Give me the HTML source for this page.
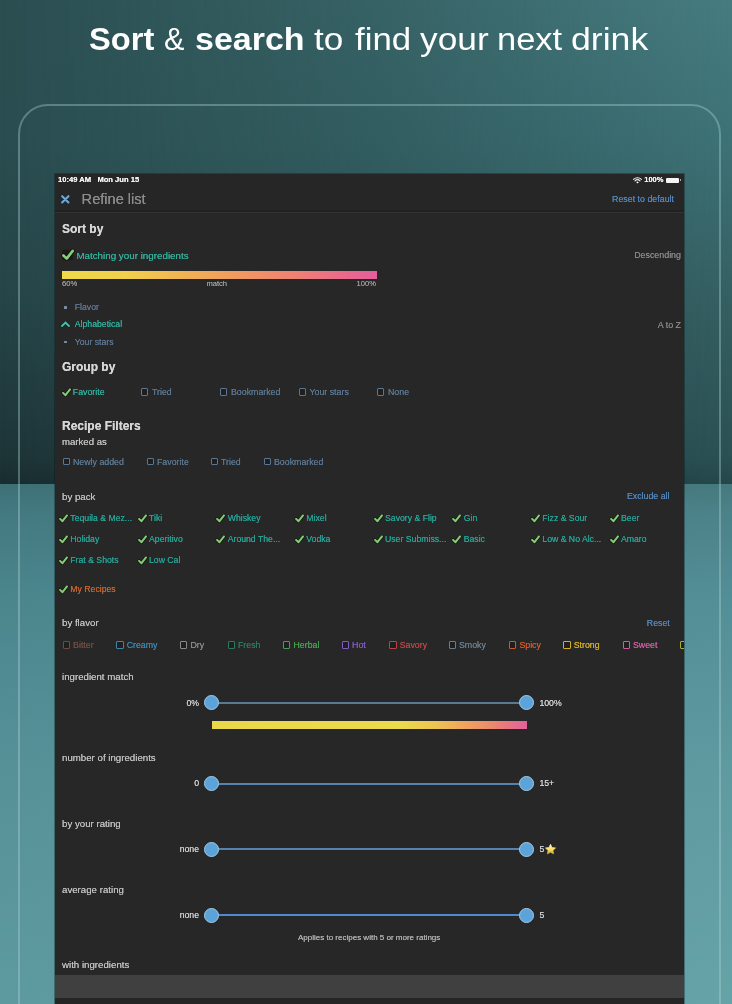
<!DOCTYPE html>
<html><head><meta charset="utf-8"><title>Refine list</title>
<style>
html,body{margin:0;padding:0}
body{width:732px;height:1004px;overflow:hidden;position:relative;background:#2f5b5e;font-family:"Liberation Sans", Arial, sans-serif}
.a{position:absolute}
.t{position:absolute;white-space:nowrap}
.s .t{text-shadow:0 0 0.5px currentColor}
svg.a{overflow:visible}
</style></head><body>
<div class="a" style="left:0;top:0;width:732px;height:484px;background:linear-gradient(180deg,#2b4e51 0%,#2a4d50 29%,#264548 62%,#1e3538 94%,#192d31 100%)"></div>
<div class="a" style="left:0;top:0;width:732px;height:484px;background:linear-gradient(180deg,#467c80 0%,#3d7276 29%,#355f62 62%,#2b5155 94%,#25474b 100%);-webkit-mask-image:linear-gradient(90deg,rgba(0,0,0,0) 0%,rgba(0,0,0,0.42) 50%,#000 100%);mask-image:linear-gradient(90deg,rgba(0,0,0,0) 0%,rgba(0,0,0,0.42) 50%,#000 100%)"></div>
<div class="a" style="left:0;top:484px;width:732px;height:520px;background:linear-gradient(180deg,#3f757a 0%,#467d85 5%,#4e8b93 22%,#5a979e 55%,#61a0a5 100%)"></div>
<div class="a" style="left:0;top:484px;width:732px;height:520px;background:linear-gradient(90deg,rgba(0,0,0,0.04),rgba(255,255,255,0.03))"></div>
<div class="a" style="left:18px;top:104.2px;width:699px;height:1000px;border:2px solid rgba(170,212,212,0.38);border-radius:30px"></div>
<div class="t" style="top:23.56px;font-size:31px;line-height:31px;color:#ffffff;font-weight:700;left:89.0px;transform:scaleX(1.053);transform-origin:0 0;">Sort</div>
<div class="t" style="top:23.56px;font-size:31px;line-height:31px;color:#ffffff;left:163.815px;transform:scaleX(0.985);transform-origin:0 0;">&amp;</div>
<div class="t" style="top:23.56px;font-size:31px;line-height:31px;color:#ffffff;font-weight:700;left:194.90408163265306px;transform:scaleX(1.096);transform-origin:0 0;">search</div>
<div class="t" style="top:23.56px;font-size:31px;line-height:31px;color:#ffffff;left:314.4px;transform:scaleX(1.134);transform-origin:0 0;">to</div>
<div class="t" style="top:23.56px;font-size:31px;line-height:31px;color:#ffffff;left:354.6px;transform:scaleX(1.123);transform-origin:0 0;">find</div>
<div class="t" style="top:23.56px;font-size:31px;line-height:31px;color:#ffffff;left:420.2px;transform:scaleX(1.138);transform-origin:0 0;">your</div>
<div class="t" style="top:23.56px;font-size:31px;line-height:31px;color:#ffffff;left:496.77543859649126px;transform:scaleX(1.112);transform-origin:0 0;">next</div>
<div class="t" style="top:23.56px;font-size:31px;line-height:31px;color:#ffffff;left:571.4500749625188px;transform:scaleX(1.150);transform-origin:0 0;">drink</div>
<div class="a" style="left:55px;top:174px;width:629px;height:830px;background:#272727;box-shadow:0 0 0 1px rgba(10,20,20,0.35)"></div>
<div style="position:absolute;left:0;top:0;width:732px;height:1004px;clip-path:inset(0 48px 0 0)" class="a s">
<div class="a" style="left:55px;top:174px;width:629px;height:36px;background:#262626"></div>
<div class="a" style="left:55px;top:210px;width:629px;height:1.5px;background:#212121"></div>
<div class="a" style="left:55px;top:211.5px;width:629px;height:1.5px;background:#323232"></div>
<div class="t" style="top:176.17px;font-size:7.6px;line-height:7.6px;color:#f2f2f2;font-weight:700;left:58px;">10:49 AM&nbsp;&nbsp;&nbsp;Mon Jun 15</div>
<div class="t" style="top:176.17px;font-size:7.6px;line-height:7.6px;color:#f2f2f2;font-weight:700;right:68.39999999999998px;">100%</div>
<svg class="a" style="left:633px;top:176.5px" width="9" height="7" viewBox="0 0 9 7"><g fill="none" stroke="#f2f2f2" stroke-width="1.1" stroke-linecap="round"><path d="M0.6 2.4 A5.6 5.6 0 0 1 8.4 2.4"/><path d="M2 3.9 A3.6 3.6 0 0 1 7 3.9"/></g><path d="M4.5 6.6 L3.2 5.2 A1.8 1.8 0 0 1 5.8 5.2 Z" fill="#f2f2f2"/></svg>
<div class="a" style="left:665.5px;top:177.8px;width:13px;height:4.8px;background:#f4f4f4;border-radius:1px"></div>
<div class="a" style="left:679.5px;top:179.2px;width:1px;height:2px;background:#aaa"></div>
<svg class="a" style="left:61.2px;top:195px" width="8.6" height="8.6" viewBox="0 0 9 9"><path d="M1.2 1.2 L7.8 7.8 M7.8 1.2 L1.2 7.8" stroke="#0e2a44" stroke-opacity="0.8" stroke-width="3.4" stroke-linecap="round"/><path d="M1.2 1.2 L7.8 7.8 M7.8 1.2 L1.2 7.8" stroke="#6eaad8" stroke-width="2.2" stroke-linecap="round"/></svg>
<div class="t" style="top:192.44px;font-size:14.6px;line-height:14.6px;color:#8c8c8c;left:81.6px;">Refine list</div>
<div class="t" style="top:195.11px;font-size:8.85px;line-height:8.85px;color:#5585b9;right:58px;">Reset to default</div>
<div class="t" style="top:222.64px;font-size:12px;line-height:12px;color:#d6d6d6;font-weight:700;left:62px;">Sort by</div>
<svg class="a" style="left:62px;top:248.50px" width="12" height="12" viewBox="0 0 10 10"><rect x="0.3" y="0.6" width="8.6" height="8.8" fill="#1a1a1a"/><path d="M1.2 5.4 L3.9 8 L8.9 1.6" fill="none" stroke="#0a0f08" stroke-opacity="0.75" stroke-width="3.65" stroke-linecap="round" stroke-linejoin="round"/><path d="M1.2 5.4 L3.9 8 L8.9 1.6" fill="none" stroke="#86cc74" stroke-width="2.25" stroke-linecap="round" stroke-linejoin="round"/></svg>
<div class="t" style="top:250.60px;font-size:9.8px;line-height:9.8px;color:#33ae9a;left:76.4px;">Matching your ingredients</div>
<div class="t" style="top:250.67px;font-size:8.9px;line-height:8.9px;color:#868686;right:51px;">Descending</div>
<div class="a" style="left:62px;top:271px;width:315px;height:7.5px;background:linear-gradient(90deg,#efd84a 0%,#f0d04c 20%,#f0b454 38%,#f09a60 55%,#ee8470 72%,#ea6c88 88%,#e45e9c 100%)"></div>
<div class="t" style="top:279.77px;font-size:7.6px;line-height:7.6px;color:#9a9a9a;left:62px;">60%</div>
<div class="t" style="top:279.77px;font-size:7.6px;line-height:7.6px;color:#9a9a9a;left:206.4px;">match</div>
<div class="t" style="top:279.77px;font-size:7.6px;line-height:7.6px;color:#9a9a9a;right:356px;">100%</div>
<div class="a" style="left:64.3px;top:305.8px;width:2.8px;height:2.8px;background:#7890a6;border-radius:0.6px"></div>
<div class="t" style="top:302.64px;font-size:8.7px;line-height:8.7px;color:#5d7592;left:74.8px;">Flavor</div>
<svg class="a" style="left:61px;top:321px" width="9" height="6" viewBox="0 0 9 6"><path d="M1 5 L4.5 1.5 L8 5" fill="none" stroke="#08201c" stroke-opacity="0.7" stroke-width="3" stroke-linecap="round"/><path d="M1 5 L4.5 1.5 L8 5" fill="none" stroke="#46c0a8" stroke-width="1.9" stroke-linecap="round"/></svg>
<div class="t" style="top:320.44px;font-size:8.7px;line-height:8.7px;color:#30ad9a;left:74.8px;">Alphabetical</div>
<div class="t" style="top:320.67px;font-size:8.9px;line-height:8.9px;color:#868686;right:51px;">A to Z</div>
<div class="a" style="left:64.3px;top:340.6px;width:2.8px;height:2.8px;background:#7890a6;border-radius:0.6px"></div>
<div class="t" style="top:338.14px;font-size:8.7px;line-height:8.7px;color:#5d7592;left:74.8px;">Your stars</div>
<div class="t" style="top:361.24px;font-size:12px;line-height:12px;color:#d6d6d6;font-weight:700;left:62px;">Group by</div>
<svg class="a" style="left:61.5px;top:387.50px" width="9" height="9" viewBox="0 0 10 10"><path d="M1.2 5.4 L3.9 8 L8.9 1.6" fill="none" stroke="#0a0f08" stroke-opacity="0.75" stroke-width="3.65" stroke-linecap="round" stroke-linejoin="round"/><path d="M1.2 5.4 L3.9 8 L8.9 1.6" fill="none" stroke="#86cc74" stroke-width="2.25" stroke-linecap="round" stroke-linejoin="round"/></svg>
<div class="t" style="top:387.95px;font-size:8.8px;line-height:8.8px;color:#30ad9a;left:72.8px;">Favorite</div>
<div class="a" style="left:141px;top:388.30px;width:5.4px;height:5.4px;border:1px solid #5a7690;border-radius:1px;background:#1f1f1f"></div>
<div class="t" style="top:387.95px;font-size:8.8px;line-height:8.8px;color:#5a7690;left:152px;">Tried</div>
<div class="a" style="left:220px;top:388.30px;width:5.4px;height:5.4px;border:1px solid #5a7690;border-radius:1px;background:#1f1f1f"></div>
<div class="t" style="top:387.95px;font-size:8.8px;line-height:8.8px;color:#5a7690;left:231px;">Bookmarked</div>
<div class="a" style="left:298.5px;top:388.30px;width:5.4px;height:5.4px;border:1px solid #5a7690;border-radius:1px;background:#1f1f1f"></div>
<div class="t" style="top:387.95px;font-size:8.8px;line-height:8.8px;color:#5a7690;left:309.5px;">Your stars</div>
<div class="a" style="left:377px;top:388.30px;width:5.4px;height:5.4px;border:1px solid #5a7690;border-radius:1px;background:#1f1f1f"></div>
<div class="t" style="top:387.95px;font-size:8.8px;line-height:8.8px;color:#5a7690;left:388px;">None</div>
<div class="t" style="top:420.14px;font-size:12px;line-height:12px;color:#d6d6d6;font-weight:700;left:62px;">Recipe Filters</div>
<div class="t" style="top:437.47px;font-size:9.6px;line-height:9.6px;color:#bfbfbf;left:62px;">marked as</div>
<div class="a" style="left:62.5px;top:458.10px;width:5.4px;height:5.4px;border:1px solid #5a7690;border-radius:1px;background:#1f1f1f"></div>
<div class="t" style="top:457.75px;font-size:8.8px;line-height:8.8px;color:#5a7690;left:73.0px;">Newly added</div>
<div class="a" style="left:146.5px;top:458.10px;width:5.4px;height:5.4px;border:1px solid #5a7690;border-radius:1px;background:#1f1f1f"></div>
<div class="t" style="top:457.75px;font-size:8.8px;line-height:8.8px;color:#5a7690;left:157.0px;">Favorite</div>
<div class="a" style="left:210.5px;top:458.10px;width:5.4px;height:5.4px;border:1px solid #5a7690;border-radius:1px;background:#1f1f1f"></div>
<div class="t" style="top:457.75px;font-size:8.8px;line-height:8.8px;color:#5a7690;left:221.0px;">Tried</div>
<div class="a" style="left:263.5px;top:458.10px;width:5.4px;height:5.4px;border:1px solid #5a7690;border-radius:1px;background:#1f1f1f"></div>
<div class="t" style="top:457.75px;font-size:8.8px;line-height:8.8px;color:#5a7690;left:274.0px;">Bookmarked</div>
<div class="t" style="top:491.69px;font-size:9.7px;line-height:9.7px;color:#bfbfbf;left:62px;">by pack</div>
<div class="t" style="top:492.05px;font-size:8.8px;line-height:8.8px;color:#5585b9;right:62.5px;">Exclude all</div>
<svg class="a" style="left:59px;top:513.70px" width="9" height="9" viewBox="0 0 10 10"><path d="M1.2 5.4 L3.9 8 L8.9 1.6" fill="none" stroke="#0a0f08" stroke-opacity="0.75" stroke-width="3.65" stroke-linecap="round" stroke-linejoin="round"/><path d="M1.2 5.4 L3.9 8 L8.9 1.6" fill="none" stroke="#86cc74" stroke-width="2.25" stroke-linecap="round" stroke-linejoin="round"/></svg>
<div class="t" style="top:514.24px;font-size:8.7px;line-height:8.7px;color:#25a396;left:70.3px;">Tequila &amp; Mez...</div>
<svg class="a" style="left:137.7px;top:513.70px" width="9" height="9" viewBox="0 0 10 10"><path d="M1.2 5.4 L3.9 8 L8.9 1.6" fill="none" stroke="#0a0f08" stroke-opacity="0.75" stroke-width="3.65" stroke-linecap="round" stroke-linejoin="round"/><path d="M1.2 5.4 L3.9 8 L8.9 1.6" fill="none" stroke="#86cc74" stroke-width="2.25" stroke-linecap="round" stroke-linejoin="round"/></svg>
<div class="t" style="top:514.24px;font-size:8.7px;line-height:8.7px;color:#25a396;left:149.0px;">Tiki</div>
<svg class="a" style="left:216.4px;top:513.70px" width="9" height="9" viewBox="0 0 10 10"><path d="M1.2 5.4 L3.9 8 L8.9 1.6" fill="none" stroke="#0a0f08" stroke-opacity="0.75" stroke-width="3.65" stroke-linecap="round" stroke-linejoin="round"/><path d="M1.2 5.4 L3.9 8 L8.9 1.6" fill="none" stroke="#86cc74" stroke-width="2.25" stroke-linecap="round" stroke-linejoin="round"/></svg>
<div class="t" style="top:514.24px;font-size:8.7px;line-height:8.7px;color:#25a396;left:227.70000000000002px;">Whiskey</div>
<svg class="a" style="left:295px;top:513.70px" width="9" height="9" viewBox="0 0 10 10"><path d="M1.2 5.4 L3.9 8 L8.9 1.6" fill="none" stroke="#0a0f08" stroke-opacity="0.75" stroke-width="3.65" stroke-linecap="round" stroke-linejoin="round"/><path d="M1.2 5.4 L3.9 8 L8.9 1.6" fill="none" stroke="#86cc74" stroke-width="2.25" stroke-linecap="round" stroke-linejoin="round"/></svg>
<div class="t" style="top:514.24px;font-size:8.7px;line-height:8.7px;color:#25a396;left:306.3px;">Mixel</div>
<svg class="a" style="left:373.7px;top:513.70px" width="9" height="9" viewBox="0 0 10 10"><path d="M1.2 5.4 L3.9 8 L8.9 1.6" fill="none" stroke="#0a0f08" stroke-opacity="0.75" stroke-width="3.65" stroke-linecap="round" stroke-linejoin="round"/><path d="M1.2 5.4 L3.9 8 L8.9 1.6" fill="none" stroke="#86cc74" stroke-width="2.25" stroke-linecap="round" stroke-linejoin="round"/></svg>
<div class="t" style="top:514.24px;font-size:8.7px;line-height:8.7px;color:#25a396;left:385.0px;">Savory &amp; Flip</div>
<svg class="a" style="left:452.4px;top:513.70px" width="9" height="9" viewBox="0 0 10 10"><path d="M1.2 5.4 L3.9 8 L8.9 1.6" fill="none" stroke="#0a0f08" stroke-opacity="0.75" stroke-width="3.65" stroke-linecap="round" stroke-linejoin="round"/><path d="M1.2 5.4 L3.9 8 L8.9 1.6" fill="none" stroke="#86cc74" stroke-width="2.25" stroke-linecap="round" stroke-linejoin="round"/></svg>
<div class="t" style="top:514.24px;font-size:8.7px;line-height:8.7px;color:#25a396;left:463.7px;">Gin</div>
<svg class="a" style="left:531px;top:513.70px" width="9" height="9" viewBox="0 0 10 10"><path d="M1.2 5.4 L3.9 8 L8.9 1.6" fill="none" stroke="#0a0f08" stroke-opacity="0.75" stroke-width="3.65" stroke-linecap="round" stroke-linejoin="round"/><path d="M1.2 5.4 L3.9 8 L8.9 1.6" fill="none" stroke="#86cc74" stroke-width="2.25" stroke-linecap="round" stroke-linejoin="round"/></svg>
<div class="t" style="top:514.24px;font-size:8.7px;line-height:8.7px;color:#25a396;left:542.3px;">Fizz &amp; Sour</div>
<svg class="a" style="left:609.7px;top:513.70px" width="9" height="9" viewBox="0 0 10 10"><path d="M1.2 5.4 L3.9 8 L8.9 1.6" fill="none" stroke="#0a0f08" stroke-opacity="0.75" stroke-width="3.65" stroke-linecap="round" stroke-linejoin="round"/><path d="M1.2 5.4 L3.9 8 L8.9 1.6" fill="none" stroke="#86cc74" stroke-width="2.25" stroke-linecap="round" stroke-linejoin="round"/></svg>
<div class="t" style="top:514.24px;font-size:8.7px;line-height:8.7px;color:#25a396;left:621.0px;">Beer</div>
<svg class="a" style="left:59px;top:534.70px" width="9" height="9" viewBox="0 0 10 10"><path d="M1.2 5.4 L3.9 8 L8.9 1.6" fill="none" stroke="#0a0f08" stroke-opacity="0.75" stroke-width="3.65" stroke-linecap="round" stroke-linejoin="round"/><path d="M1.2 5.4 L3.9 8 L8.9 1.6" fill="none" stroke="#86cc74" stroke-width="2.25" stroke-linecap="round" stroke-linejoin="round"/></svg>
<div class="t" style="top:535.24px;font-size:8.7px;line-height:8.7px;color:#25a396;left:70.3px;">Holiday</div>
<svg class="a" style="left:137.7px;top:534.70px" width="9" height="9" viewBox="0 0 10 10"><path d="M1.2 5.4 L3.9 8 L8.9 1.6" fill="none" stroke="#0a0f08" stroke-opacity="0.75" stroke-width="3.65" stroke-linecap="round" stroke-linejoin="round"/><path d="M1.2 5.4 L3.9 8 L8.9 1.6" fill="none" stroke="#86cc74" stroke-width="2.25" stroke-linecap="round" stroke-linejoin="round"/></svg>
<div class="t" style="top:535.24px;font-size:8.7px;line-height:8.7px;color:#25a396;left:149.0px;">Aperitivo</div>
<svg class="a" style="left:216.4px;top:534.70px" width="9" height="9" viewBox="0 0 10 10"><path d="M1.2 5.4 L3.9 8 L8.9 1.6" fill="none" stroke="#0a0f08" stroke-opacity="0.75" stroke-width="3.65" stroke-linecap="round" stroke-linejoin="round"/><path d="M1.2 5.4 L3.9 8 L8.9 1.6" fill="none" stroke="#86cc74" stroke-width="2.25" stroke-linecap="round" stroke-linejoin="round"/></svg>
<div class="t" style="top:535.24px;font-size:8.7px;line-height:8.7px;color:#25a396;left:227.70000000000002px;">Around The...</div>
<svg class="a" style="left:295px;top:534.70px" width="9" height="9" viewBox="0 0 10 10"><path d="M1.2 5.4 L3.9 8 L8.9 1.6" fill="none" stroke="#0a0f08" stroke-opacity="0.75" stroke-width="3.65" stroke-linecap="round" stroke-linejoin="round"/><path d="M1.2 5.4 L3.9 8 L8.9 1.6" fill="none" stroke="#86cc74" stroke-width="2.25" stroke-linecap="round" stroke-linejoin="round"/></svg>
<div class="t" style="top:535.24px;font-size:8.7px;line-height:8.7px;color:#25a396;left:306.3px;">Vodka</div>
<svg class="a" style="left:373.7px;top:534.70px" width="9" height="9" viewBox="0 0 10 10"><path d="M1.2 5.4 L3.9 8 L8.9 1.6" fill="none" stroke="#0a0f08" stroke-opacity="0.75" stroke-width="3.65" stroke-linecap="round" stroke-linejoin="round"/><path d="M1.2 5.4 L3.9 8 L8.9 1.6" fill="none" stroke="#86cc74" stroke-width="2.25" stroke-linecap="round" stroke-linejoin="round"/></svg>
<div class="t" style="top:535.24px;font-size:8.7px;line-height:8.7px;color:#25a396;left:385.0px;">User Submiss...</div>
<svg class="a" style="left:452.4px;top:534.70px" width="9" height="9" viewBox="0 0 10 10"><path d="M1.2 5.4 L3.9 8 L8.9 1.6" fill="none" stroke="#0a0f08" stroke-opacity="0.75" stroke-width="3.65" stroke-linecap="round" stroke-linejoin="round"/><path d="M1.2 5.4 L3.9 8 L8.9 1.6" fill="none" stroke="#86cc74" stroke-width="2.25" stroke-linecap="round" stroke-linejoin="round"/></svg>
<div class="t" style="top:535.24px;font-size:8.7px;line-height:8.7px;color:#25a396;left:463.7px;">Basic</div>
<svg class="a" style="left:531px;top:534.70px" width="9" height="9" viewBox="0 0 10 10"><path d="M1.2 5.4 L3.9 8 L8.9 1.6" fill="none" stroke="#0a0f08" stroke-opacity="0.75" stroke-width="3.65" stroke-linecap="round" stroke-linejoin="round"/><path d="M1.2 5.4 L3.9 8 L8.9 1.6" fill="none" stroke="#86cc74" stroke-width="2.25" stroke-linecap="round" stroke-linejoin="round"/></svg>
<div class="t" style="top:535.24px;font-size:8.7px;line-height:8.7px;color:#25a396;left:542.3px;">Low &amp; No Alc...</div>
<svg class="a" style="left:609.7px;top:534.70px" width="9" height="9" viewBox="0 0 10 10"><path d="M1.2 5.4 L3.9 8 L8.9 1.6" fill="none" stroke="#0a0f08" stroke-opacity="0.75" stroke-width="3.65" stroke-linecap="round" stroke-linejoin="round"/><path d="M1.2 5.4 L3.9 8 L8.9 1.6" fill="none" stroke="#86cc74" stroke-width="2.25" stroke-linecap="round" stroke-linejoin="round"/></svg>
<div class="t" style="top:535.24px;font-size:8.7px;line-height:8.7px;color:#25a396;left:621.0px;">Amaro</div>
<svg class="a" style="left:59px;top:555.90px" width="9" height="9" viewBox="0 0 10 10"><path d="M1.2 5.4 L3.9 8 L8.9 1.6" fill="none" stroke="#0a0f08" stroke-opacity="0.75" stroke-width="3.65" stroke-linecap="round" stroke-linejoin="round"/><path d="M1.2 5.4 L3.9 8 L8.9 1.6" fill="none" stroke="#86cc74" stroke-width="2.25" stroke-linecap="round" stroke-linejoin="round"/></svg>
<div class="t" style="top:556.44px;font-size:8.7px;line-height:8.7px;color:#25a396;left:70.3px;">Frat &amp; Shots</div>
<svg class="a" style="left:137.7px;top:555.90px" width="9" height="9" viewBox="0 0 10 10"><path d="M1.2 5.4 L3.9 8 L8.9 1.6" fill="none" stroke="#0a0f08" stroke-opacity="0.75" stroke-width="3.65" stroke-linecap="round" stroke-linejoin="round"/><path d="M1.2 5.4 L3.9 8 L8.9 1.6" fill="none" stroke="#86cc74" stroke-width="2.25" stroke-linecap="round" stroke-linejoin="round"/></svg>
<div class="t" style="top:556.44px;font-size:8.7px;line-height:8.7px;color:#25a396;left:149.0px;">Low Cal</div>
<svg class="a" style="left:59px;top:584.70px" width="9" height="9" viewBox="0 0 10 10"><path d="M1.2 5.4 L3.9 8 L8.9 1.6" fill="none" stroke="#0a0f08" stroke-opacity="0.75" stroke-width="3.65" stroke-linecap="round" stroke-linejoin="round"/><path d="M1.2 5.4 L3.9 8 L8.9 1.6" fill="none" stroke="#86cc74" stroke-width="2.25" stroke-linecap="round" stroke-linejoin="round"/></svg>
<div class="t" style="top:585.24px;font-size:8.7px;line-height:8.7px;color:#c8642e;left:70.3px;">My Recipes</div>
<div class="t" style="top:618.19px;font-size:9.7px;line-height:9.7px;color:#bfbfbf;left:62px;">by flavor</div>
<div class="t" style="top:618.85px;font-size:8.8px;line-height:8.8px;color:#5585b9;right:62.200000000000045px;">Reset</div>
<div class="a" style="left:62.6px;top:641.30px;width:5.4px;height:5.4px;border:1px solid #6e4c44;border-radius:1px;background:#1f1f1f"></div>
<div class="t" style="top:640.95px;font-size:8.8px;line-height:8.8px;color:#6e4c44;left:73.1px;">Bitter</div>
<div class="a" style="left:116.2px;top:641.30px;width:5.4px;height:5.4px;border:1px solid #3c86ae;border-radius:1px;background:#1f1f1f"></div>
<div class="t" style="top:640.95px;font-size:8.8px;line-height:8.8px;color:#3c86ae;left:126.7px;">Creamy</div>
<div class="a" style="left:180px;top:641.30px;width:5.4px;height:5.4px;border:1px solid #8a8a8a;border-radius:1px;background:#1f1f1f"></div>
<div class="t" style="top:640.95px;font-size:8.8px;line-height:8.8px;color:#8a8a8a;left:190.5px;">Dry</div>
<div class="a" style="left:227.5px;top:641.30px;width:5.4px;height:5.4px;border:1px solid #2a7a5e;border-radius:1px;background:#1f1f1f"></div>
<div class="t" style="top:640.95px;font-size:8.8px;line-height:8.8px;color:#2a7a5e;left:238.0px;">Fresh</div>
<div class="a" style="left:283px;top:641.30px;width:5.4px;height:5.4px;border:1px solid #46a050;border-radius:1px;background:#1f1f1f"></div>
<div class="t" style="top:640.95px;font-size:8.8px;line-height:8.8px;color:#46a050;left:293.5px;">Herbal</div>
<div class="a" style="left:341.6px;top:641.30px;width:5.4px;height:5.4px;border:1px solid #7e5cc4;border-radius:1px;background:#1f1f1f"></div>
<div class="t" style="top:640.95px;font-size:8.8px;line-height:8.8px;color:#7e5cc4;left:352.1px;">Hot</div>
<div class="a" style="left:389.2px;top:641.30px;width:5.4px;height:5.4px;border:1px solid #b84444;border-radius:1px;background:#1f1f1f"></div>
<div class="t" style="top:640.95px;font-size:8.8px;line-height:8.8px;color:#b84444;left:399.7px;">Savory</div>
<div class="a" style="left:448.5px;top:641.30px;width:5.4px;height:5.4px;border:1px solid #6a7d8e;border-radius:1px;background:#1f1f1f"></div>
<div class="t" style="top:640.95px;font-size:8.8px;line-height:8.8px;color:#6a7d8e;left:459.0px;">Smoky</div>
<div class="a" style="left:508.9px;top:641.30px;width:5.4px;height:5.4px;border:1px solid #d0582c;border-radius:1px;background:#1f1f1f"></div>
<div class="t" style="top:640.95px;font-size:8.8px;line-height:8.8px;color:#d0582c;left:519.4px;">Spicy</div>
<div class="a" style="left:563.2px;top:641.30px;width:5.4px;height:5.4px;border:1px solid #d4ae24;border-radius:1px;background:#1f1f1f"></div>
<div class="t" style="top:640.95px;font-size:8.8px;line-height:8.8px;color:#d4ae24;left:573.7px;">Strong</div>
<div class="a" style="left:622.5px;top:641.30px;width:5.4px;height:5.4px;border:1px solid #cc5ea0;border-radius:1px;background:#1f1f1f"></div>
<div class="t" style="top:640.95px;font-size:8.8px;line-height:8.8px;color:#cc5ea0;left:633.0px;">Sweet</div>
<div class="a" style="left:680.4px;top:641.30px;width:5.4px;height:5.4px;border:1px solid #a8b030;border-radius:1px;background:#1f1f1f"></div>
<div class="t" style="top:671.79px;font-size:9.7px;line-height:9.7px;color:#bfbfbf;left:62px;">ingredient match</div>
<div class="a" style="left:211.5px;top:701.90px;width:315px;height:2px;background:#5a7a92"></div>
<div class="a" style="left:204.00px;top:695.40px;width:13px;height:13px;border-radius:50%;background:#5ca3d9;border:1px solid #a2cbe6"></div>
<div class="a" style="left:519.00px;top:695.40px;width:13px;height:13px;border-radius:50%;background:#5ca3d9;border:1px solid #a2cbe6"></div>
<div class="t" style="top:698.64px;font-size:8.7px;line-height:8.7px;color:#d0d0d0;right:533px;">0%</div>
<div class="t" style="top:698.64px;font-size:8.7px;line-height:8.7px;color:#d0d0d0;left:539.4px;">100%</div>
<div class="a" style="left:211.5px;top:720.7px;width:315px;height:8px;background:linear-gradient(90deg,#e8d84a 0%,#eada4c 60%,#eec452 71%,#eea060 82%,#ea8074 91%,#e2609c 100%)"></div>
<div class="t" style="top:752.59px;font-size:9.7px;line-height:9.7px;color:#bfbfbf;left:62px;">number of ingredients</div>
<div class="a" style="left:211.5px;top:782.50px;width:315px;height:2px;background:#5484ae"></div>
<div class="a" style="left:204.00px;top:776.00px;width:13px;height:13px;border-radius:50%;background:#5ca3d9;border:1px solid #a2cbe6"></div>
<div class="a" style="left:519.00px;top:776.00px;width:13px;height:13px;border-radius:50%;background:#5ca3d9;border:1px solid #a2cbe6"></div>
<div class="t" style="top:779.24px;font-size:8.7px;line-height:8.7px;color:#d0d0d0;right:533px;">0</div>
<div class="t" style="top:779.24px;font-size:8.7px;line-height:8.7px;color:#d0d0d0;left:539.4px;">15+</div>
<div class="t" style="top:818.79px;font-size:9.7px;line-height:9.7px;color:#bfbfbf;left:62px;">by your rating</div>
<div class="a" style="left:211.5px;top:848.40px;width:315px;height:2px;background:#5484ae"></div>
<div class="a" style="left:204.00px;top:841.90px;width:13px;height:13px;border-radius:50%;background:#5ca3d9;border:1px solid #a2cbe6"></div>
<div class="a" style="left:519.00px;top:841.90px;width:13px;height:13px;border-radius:50%;background:#5ca3d9;border:1px solid #a2cbe6"></div>
<div class="t" style="top:845.14px;font-size:8.7px;line-height:8.7px;color:#d0d0d0;right:533px;">none</div>
<div class="t" style="top:845.14px;font-size:8.7px;line-height:8.7px;color:#d0d0d0;left:539.4px;">5</div>
<svg class="a" style="left:544.9px;top:843.7px" width="11" height="11" viewBox="0 0 11 11"><defs><linearGradient id="sg" x1="0" y1="0" x2="0" y2="1"><stop offset="0" stop-color="#fff6c8"/><stop offset="0.55" stop-color="#f4dc60"/><stop offset="1" stop-color="#d8a828"/></linearGradient></defs><path d="M5.50 0.30 L7.00 3.54 L10.54 3.96 L7.93 6.39 L8.62 9.89 L5.50 8.15 L2.38 9.89 L3.07 6.39 L0.46 3.96 L4.00 3.54 Z" fill="url(#sg)" stroke="url(#sg)" stroke-width="0.7" stroke-linejoin="round"/></svg>
<div class="t" style="top:884.59px;font-size:9.7px;line-height:9.7px;color:#bfbfbf;left:62px;">average rating</div>
<div class="a" style="left:211.5px;top:914.00px;width:315px;height:2px;background:#4f8ad0"></div>
<div class="a" style="left:204.00px;top:907.50px;width:13px;height:13px;border-radius:50%;background:#5ca3d9;border:1px solid #a2cbe6"></div>
<div class="a" style="left:519.00px;top:907.50px;width:13px;height:13px;border-radius:50%;background:#5ca3d9;border:1px solid #a2cbe6"></div>
<div class="t" style="top:910.74px;font-size:8.7px;line-height:8.7px;color:#d0d0d0;right:533px;">none</div>
<div class="t" style="top:910.74px;font-size:8.7px;line-height:8.7px;color:#d0d0d0;left:539.4px;">5</div>
<div class="t" style="top:933.53px;font-size:8.0px;line-height:8.0px;color:#b0b0b0;left:298px;">Applies to recipes with 5 or more ratings</div>
<div class="t" style="top:959.89px;font-size:9.7px;line-height:9.7px;color:#bfbfbf;left:62px;">with ingredients</div>
<div class="a" style="left:55px;top:975px;width:629px;height:23px;background:#404040"></div>
<div class="a" style="left:55px;top:998px;width:629px;height:6px;background:#252525"></div>
</div>
</body></html>
